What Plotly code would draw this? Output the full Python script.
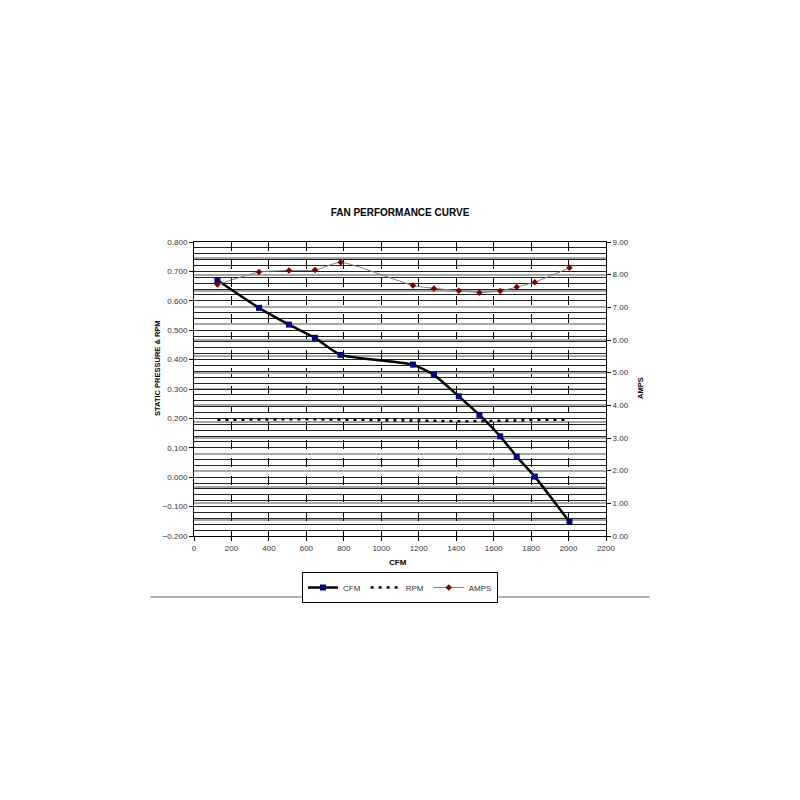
import plotly.graph_objects as go

cfm = [125, 347, 507, 646, 783, 1169, 1281, 1414, 1524, 1635, 1723, 1820, 2005]
static_pressure = [0.670, 0.576, 0.519, 0.474, 0.416, 0.383, 0.348, 0.275, 0.212, 0.139, 0.070, 0.002, -0.152]
rpm = [0.195, 0.197, 0.197, 0.197, 0.196, 0.195, 0.192, 0.190, 0.190, 0.192, 0.193, 0.195, 0.195]
amps = [7.70, 8.08, 8.13, 8.14, 8.38, 7.67, 7.58, 7.51, 7.45, 7.50, 7.62, 7.77, 8.21]

x_ticks = list(range(0, 2201, 200))
left_ticks = [round(-0.2 + 0.1 * i, 1) for i in range(11)]

FONT = "Liberation Sans, Arial, sans-serif"
OFF = 8  # page body margin

fig = go.Figure()

fig.add_trace(go.Scatter(
    x=cfm, y=static_pressure, name="CFM", mode="lines+markers",
    line=dict(color="black", width=2.5, shape="spline", smoothing=0.5),
    marker=dict(symbol="square", size=6, color="#000080"),
))
fig.add_trace(go.Scatter(
    x=cfm, y=rpm, name="RPM", mode="lines",
    line=dict(color="black", width=2.5, dash="3px,5px"),
))
fig.add_trace(go.Scatter(
    x=cfm, y=amps, name="AMPS", mode="lines+markers", yaxis="y2",
    line=dict(color="#808080", width=1, shape="spline", smoothing=0.5),
    marker=dict(symbol="diamond", size=5, color="#800000"),
))

fig.update_layout(
    width=800, height=800, autosize=False,
    paper_bgcolor="white", plot_bgcolor="white",
    margin=dict(l=194 - OFF, r=194 + OFF, t=242 - OFF, b=264 + OFF),
    font=dict(family=FONT, size=8, color="#333333"),
    title=dict(text="<b>FAN PERFORMANCE CURVE</b>", x=(400 - OFF) / 800, xanchor="center",
               y=1 - (212 - OFF) / 800, yanchor="middle",
               font=dict(family=FONT, size=10, color="black")),
    xaxis=dict(
        range=[0, 2200], tickvals=x_ticks, ticks="outside", ticklen=4,
        tickcolor="black", showline=True, linecolor="black", linewidth=1, mirror=True,
        showgrid=True, gridcolor="black", griddash="dash", gridwidth=1,
        zeroline=False, tickfont=dict(size=8),
    ),
    yaxis=dict(
        range=[-0.2, 0.8], tickvals=left_ticks, tickformat=".3f", ticks="outside",
        ticklen=4, tickcolor="black", showline=True, linecolor="black", linewidth=1,
        showgrid=True, gridcolor="#222222", gridwidth=1, zeroline=False,
        minor=dict(dtick=0.02, showgrid=True, gridcolor="#222222", gridwidth=1),
        tickfont=dict(size=8),
    ),
    yaxis2=dict(
        range=[0, 9], dtick=1, tick0=0, tickformat=".2f", overlaying="y",
        side="right", ticks="outside", ticklen=4, tickcolor="black",
        showline=True, linecolor="black", linewidth=1,
        showgrid=True, gridcolor="#a6a6a6", gridwidth=2,
        minor=dict(dtick=0.5, showgrid=True, gridcolor="#a6a6a6", gridwidth=2),
        zeroline=False, tickfont=dict(size=8),
    ),
    showlegend=True,
    legend=dict(orientation="h", x=0.5, xanchor="center", y=(536 - 572) / 294, yanchor="top",
                bordercolor="black", borderwidth=1, bgcolor="white",
                font=dict(family=FONT, size=8, color="#333333"),
                itemwidth=30, tracegroupgap=0),
)

fig.add_annotation(text="<b>CFM</b>", xref="paper", yref="paper", x=(398 - 194) / 412,
                   y=(536 - 562) / 294, xanchor="center", yanchor="middle", showarrow=False,
                   font=dict(family=FONT, size=8, color="black"))
fig.add_annotation(text="<b>STATIC PRESSURE &amp; RPM</b>", xref="paper", yref="paper",
                   x=(157 - 194) / 412, y=(536 - 368) / 294, textangle=-90,
                   xanchor="center", yanchor="middle", showarrow=False,
                   font=dict(family=FONT, size=7.5, color="black"))
fig.add_annotation(text="<b>AMPS</b>", xref="paper", yref="paper",
                   x=(640 - 194) / 412, y=(536 - 388) / 294, textangle=-90,
                   xanchor="center", yanchor="middle", showarrow=False,
                   font=dict(family=FONT, size=7.5, color="black"))

fig.add_shape(type="line", xref="paper", yref="paper",
              x0=(150 - 194) / 412, x1=(650 - 194) / 412,
              y0=(536 - 597) / 294, y1=(536 - 597) / 294,
              line=dict(color="#999999", width=1.5))

fig.write_html("out.html")
